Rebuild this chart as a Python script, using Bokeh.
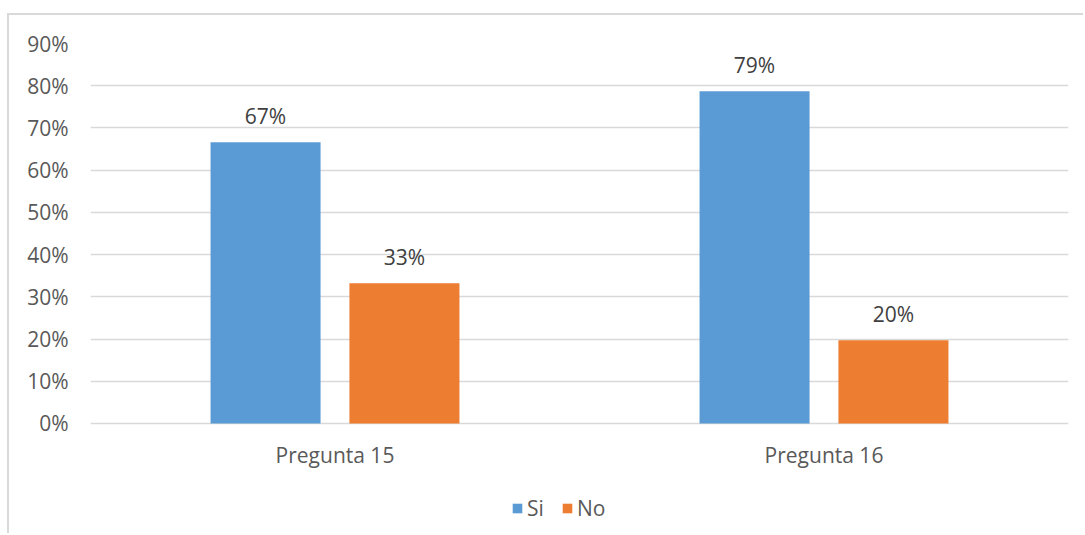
from bokeh.plotting import figure
from bokeh.models import (ColumnDataSource, FactorRange, Range1d, FixedTicker,
                          NumeralTickFormatter, LabelSet, Legend, LegendItem)
from bokeh.core.properties import value
from bokeh.transform import dodge
from bokeh.embed import file_html
from bokeh.resources import INLINE

categories = ["Pregunta 15", "Pregunta 16"]
si_values = [0.666, 0.787]
no_values = [0.332, 0.197]
y_ticks = [0.0, 0.1, 0.2, 0.3, 0.4, 0.5, 0.6, 0.7, 0.8, 0.9]

FONT = "Open Sans"
FS = "21px"
BLUE = "#5B9BD5"
ORANGE = "#ED7D31"

src = ColumnDataSource(dict(
    cat=categories,
    zero=[0.0] * len(categories),
    si=si_values,
    no=no_values,
    si_lbl=[f"{round(v * 100)}%" for v in si_values],
    no_lbl=[f"{round(v * 100)}%" for v in no_values],
))

# the frame runs down to the bottom of the canvas so the category labels and
# the legend (both below the 0% line) are not clipped
p = figure(x_range=FactorRange(*categories), y_range=Range1d(-0.2653, 0.9),
           width=1076, height=520, output_backend="svg", toolbar_location=None,
           min_border_left=81, min_border_right=17, min_border_top=28,
           min_border_bottom=0)
p.margin = (13, 0, 0, 7)
p.styles = {"border-top": "2px solid #d9d9d9", "border-left": "2px solid #d9d9d9"}
p.outline_line_color = None
p.background_fill_color = "white"
p.border_fill_color = "white"

OFF = 0.142
W = 0.225
r_si = p.vbar(x=dodge("cat", -OFF, range=p.x_range), top="si", width=W, source=src,
              fill_color=BLUE, line_color=None)
r_no = p.vbar(x=dodge("cat", OFF, range=p.x_range), top="no", width=W, source=src,
              fill_color=ORANGE, line_color=None)

for col, lbl, off in (("si", "si_lbl", -OFF), ("no", "no_lbl", OFF)):
    p.add_layout(LabelSet(x=dodge("cat", off, range=p.x_range), y=col, text=lbl,
                          source=src, text_align="center", text_baseline="alphabetic",
                          y_offset=18, text_font=value(FONT), text_font_size=value(FS),
                          text_color="#404040"))

# category labels under the 0% line
p.add_layout(LabelSet(x="cat", y="zero", text="cat", source=src,
                      text_align="center", text_baseline="middle", y_offset=-32,
                      text_font=value(FONT), text_font_size=value(FS),
                      text_color="#595959"))

# axes
p.xaxis.visible = False
p.yaxis.ticker = FixedTicker(ticks=y_ticks)
p.yaxis.formatter = NumeralTickFormatter(format="0%")
p.yaxis.axis_line_color = None
p.yaxis.major_tick_line_color = None
p.yaxis.minor_tick_line_color = None
p.yaxis.major_tick_out = 0
p.yaxis.major_label_standoff = 22
p.yaxis.major_label_text_font = FONT
p.yaxis.major_label_text_font_size = FS
p.yaxis.major_label_text_color = "#595959"

p.xgrid.grid_line_color = None
p.ygrid.grid_line_color = "#d9d9d9"
p.ygrid.grid_line_width = 1.5

legend = Legend(items=[LegendItem(label="Si", renderers=[r_si]),
                       LegendItem(label="No", renderers=[r_no])],
                orientation="horizontal", location=(421, 13),
                glyph_width=12, glyph_height=12, label_standoff=4, spacing=14,
                label_text_font=FONT, label_text_font_size=FS,
                label_text_color="#595959", border_line_color=None,
                background_fill_alpha=0, padding=0, margin=0)
p.add_layout(legend, "center")

open("out.html", "w").write(file_html(p, INLINE))
